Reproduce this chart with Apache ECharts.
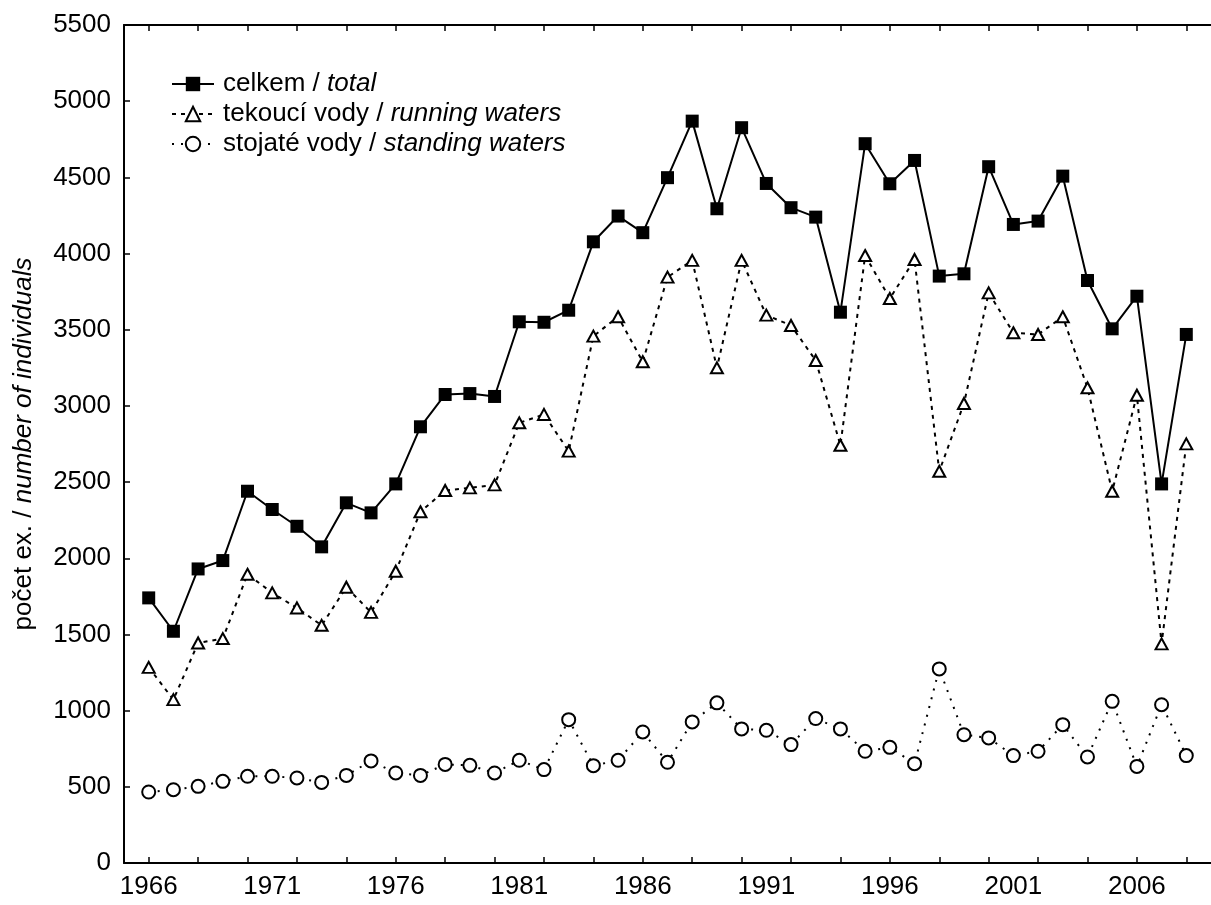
<!DOCTYPE html>
<html>
<head>
<meta charset="utf-8">
<script src="https://cdn.jsdelivr.net/npm/echarts@6/dist/echarts.min.js"></script>
<style>
html,body{margin:0;padding:0;background:#fff;}
#chart{width:1211px;height:905px;}
</style>
</head>
<body>
<div id="chart"></div>
<script>
const years = [1966,1967,1968,1969,1970,1971,1972,1973,1974,1975,1976,1977,1978,1979,1980,1981,1982,1983,1984,1985,1986,1987,1988,1989,1990,1991,1992,1993,1994,1995,1996,1997,1998,1999,2000,2001,2002,2003,2004,2005,2006,2007,2008];
const total = [1740,1521,1930,1985,2440,2320,2210,2075,2364,2298,2488,2863,3075,3081,3062,3552,3549,3628,4077,4246,4137,4498,4869,4294,4826,4460,4301,4239,3615,4721,4458,4611,3852,3867,4570,4191,4213,4508,3823,3506,3720,2488,3469];
const running = [1284,1072,1444,1473,1895,1773,1674,1560,1810,1645,1915,2305,2445,2462,2482,2889,2944,2703,3458,3585,3290,3845,3955,3250,3955,3596,3528,3298,2742,3987,3705,3961,2571,3016,3742,3480,3469,3585,3119,2440,3070,1438,2751];
const standing = [466,481,503,536,569,569,558,529,575,670,591,575,647,641,591,674,613,941,639,674,860,661,926,1051,880,871,777,948,880,733,759,652,1274,842,821,705,733,908,696,1061,634,1039,705];
const seriesCz = ['celkem', 'tekoucí vody', 'stojaté vody'];
const seriesEn = ['total', 'running waters', 'standing waters'];
const xTicks = [1966,1968,1970,1972,1974,1976,1978,1980,1982,1984,1986,1988,1990,1992,1994,1996,1998,2000,2002,2004,2006,2008];
const xLabels = [1966,1971,1976,1981,1986,1991,1996,2001,2006];
const yTitleCz = 'počet ex. / ';
const yTitleEn = 'number of individuals';

const FONT = 'Liberation Sans, Arial, sans-serif';
const FS = 26;
const pairs = arr => years.map((y, i) => [y, arr[i]]);
const names = seriesCz.map((c, i) => c + ' / ' + seriesEn[i]);

const chart = echarts.init(document.getElementById('chart'), null, {renderer: 'canvas'});
const axisLineStyle = {color: '#000', width: 2};
chart.setOption({
  animation: false,
  backgroundColor: '#fff',
  textStyle: {fontFamily: FONT},
  grid: {left: 124, top: 25, bottom: 42, right: -10, containLabel: false},
  legend: {
    orient: 'vertical',
    left: 166,
    top: 66,
    itemWidth: 42,
    itemHeight: 18,
    itemGap: 4,
    data: names,
    formatter: function (n) {
      const i = names.indexOf(n);
      return '{c|' + seriesCz[i] + ' / }{e|' + seriesEn[i] + '}';
    },
    textStyle: {
      fontFamily: FONT, fontSize: FS, color: '#000', padding: [0, 0, 0, 4],
      rich: {
        c: {fontFamily: FONT, fontSize: FS, color: '#000'},
        e: {fontFamily: FONT, fontSize: FS, color: '#000', fontStyle: 'italic'}
      }
    }
  },
  xAxis: [{
    type: 'value', min: 1965, max: 2009, position: 'bottom',
    axisLine: {show: true, onZero: false, lineStyle: axisLineStyle},
    axisTick: {show: true, inside: true, length: 6, lineStyle: {color: '#000', width: 1.5}, customValues: xTicks},
    axisLabel: {show: true, customValues: xLabels, fontSize: FS, color: '#000', fontFamily: FONT, margin: 11, formatter: v => String(v)},
    splitLine: {show: false}
  }, {
    type: 'value', min: 1965, max: 2009, position: 'top',
    axisLine: {show: true, onZero: false, lineStyle: axisLineStyle},
    axisTick: {show: true, inside: true, length: 6, lineStyle: {color: '#000', width: 1.5}, customValues: xTicks},
    axisLabel: {show: false},
    splitLine: {show: false}
  }],
  yAxis: [{
    type: 'value', min: 0, max: 5500, interval: 500, position: 'left',
    axisLine: {show: true, onZero: false, lineStyle: axisLineStyle},
    axisTick: {show: true, inside: true, length: 6, lineStyle: {color: '#000', width: 1.5}},
    axisLabel: {fontSize: FS, color: '#000', fontFamily: FONT, margin: 13, formatter: v => String(v)},
    splitLine: {show: false},
    name: '{c|' + yTitleCz + '}{e|' + yTitleEn + '}',
    nameLocation: 'middle',
    nameRotate: 90,
    nameGap: 87,
    nameTextStyle: {
      fontFamily: FONT, fontSize: FS, color: '#000',
      rich: {
        c: {fontFamily: FONT, fontSize: FS, color: '#000'},
        e: {fontFamily: FONT, fontSize: FS, color: '#000', fontStyle: 'italic'}
      }
    }
  }],
  series: [{
    name: names[0], type: 'line', data: pairs(total),
    symbol: 'rect', symbolSize: 13,
    lineStyle: {color: '#000', width: 2, type: 'solid'},
    itemStyle: {color: '#000', borderColor: '#000', borderWidth: 0},
    z: 3
  }, {
    name: names[1], type: 'line', data: pairs(running),
    symbol: 'triangle', symbolSize: [12, 11],
    lineStyle: {color: '#000', width: 2, type: [4, 5]},
    itemStyle: {color: '#fff', borderColor: '#000', borderWidth: 2},
    z: 2
  }, {
    name: names[2], type: 'line', data: pairs(standing),
    symbol: 'circle', symbolSize: 13,
    lineStyle: {color: '#000', width: 2, type: [2, 7]},
    itemStyle: {color: '#fff', borderColor: '#000', borderWidth: 2},
    z: 2
  }]
});
</script>
</body>
</html>
